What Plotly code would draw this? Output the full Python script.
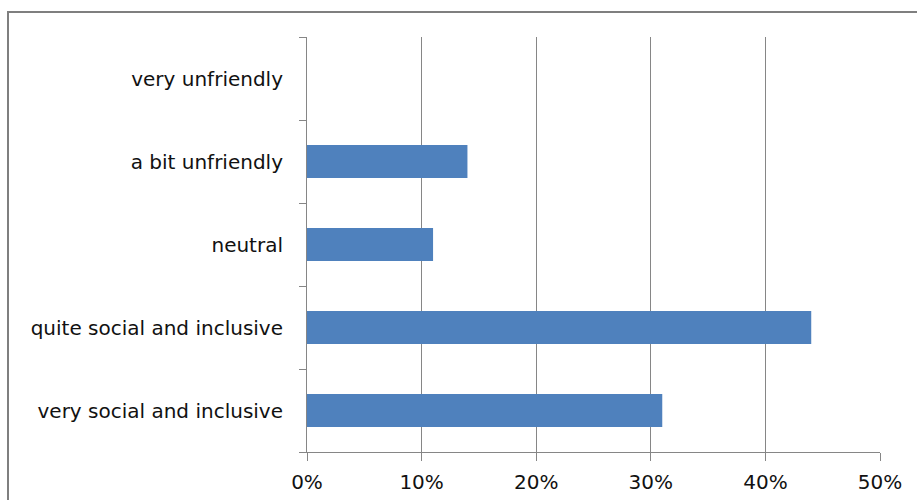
import plotly.graph_objects as go

categories = ["very social and inclusive", "quite social and inclusive", "neutral",
              "a bit unfriendly", "very unfriendly"]
shares = [0.31, 0.44, 0.11, 0.14, 0.0]
x_ticks = [0, 0.1, 0.2, 0.3, 0.4, 0.5]

W, H = 917, 500
L, R, T, B = 307, 37, 37, 48
pw, ph = W - L - R, H - T - B

def px_x(p):
    return (p - L) / pw

def px_y(p):
    return (H - B - p) / ph

fig = go.Figure(go.Bar(
    x=shares, y=categories, orientation="h",
    marker=dict(color="#4F81BD", line=dict(width=0)),
    width=0.4,
))

axis_color = "#868686"
font = dict(family="DejaVu Sans, sans-serif", size=20, color="#111111")

fig.update_layout(
    width=W, height=H,
    margin=dict(l=L, r=R, t=T, b=B),
    paper_bgcolor="white", plot_bgcolor="white",
    showlegend=False,
    font=font,
    xaxis=dict(
        range=[0, 0.5], tickvals=x_ticks, tickformat=".0%",
        showgrid=True, gridcolor=axis_color, gridwidth=1,
        showline=True, linecolor=axis_color, linewidth=1,
        ticks="outside", ticklen=8, tickcolor=axis_color,
        zeroline=False, tickfont=font, ticklabelstandoff=4,
        automargin=False,
    ),
    yaxis=dict(
        categoryorder="array", categoryarray=categories,
        showgrid=False, showline=True, linecolor=axis_color, linewidth=1,
        ticks="outside", ticklen=7, tickcolor=axis_color, tickson="boundaries",
        ticklabelstandoff=19, automargin=False,
        tickfont=font,
    ),
    shapes=[dict(
        type="rect", xref="paper", yref="paper",
        x0=px_x(8), x1=px_x(918), y0=px_y(510), y1=px_y(12),
        line=dict(color="#7f7f7f", width=2), layer="above",
    )],
)

fig.write_html("out.html")
